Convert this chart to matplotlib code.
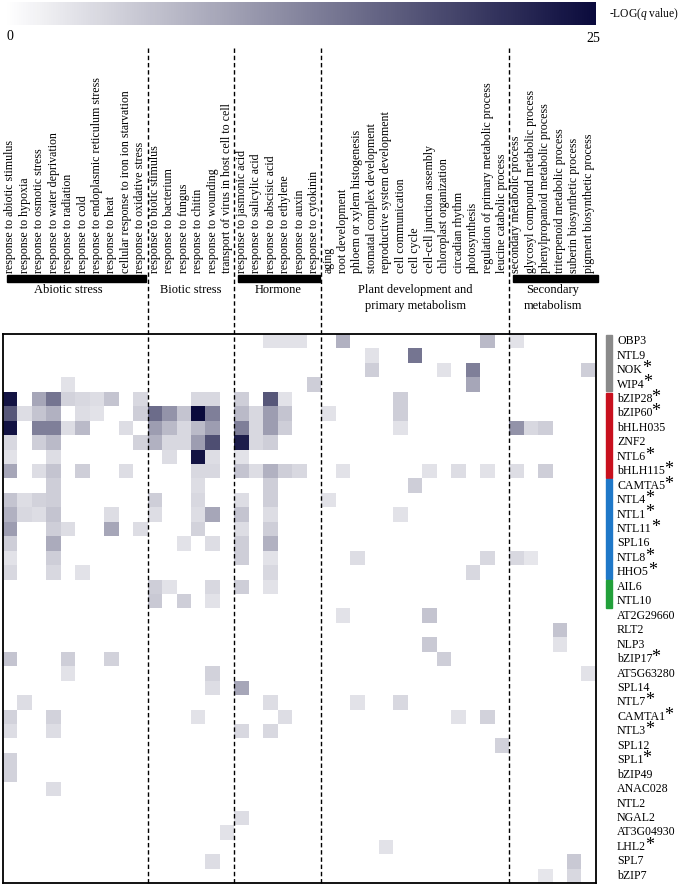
import numpy as np
import matplotlib
matplotlib.use('Agg')
import matplotlib.pyplot as plt
from matplotlib.colors import LinearSegmentedColormap
from matplotlib.patches import Rectangle
import matplotlib.transforms as mtransforms

plt.rcParams['font.family'] = ['Liberation Serif', 'DejaVu Serif']
plt.rcParams['mathtext.fontset'] = 'custom'
plt.rcParams['mathtext.it'] = 'Liberation Serif:italic'
plt.rcParams['mathtext.rm'] = 'Liberation Serif'

# ---------------- data ----------------
go_terms = [
    "response to abiotic stimulus", "response to hypoxia", "response to osmotic stress",
    "response to water deprivation", "response to radiation", "response to cold",
    "response to endoplasmic reticulum stress", "response to heat",
    "cellular response to iron ion starvation", "response to oxidative stress",
    "response to biotic stimulus", "response to bacterium", "response to fungus",
    "response to chitin", "response to wounding", "transport of virus in host cell to cell",
    "response to jasmonic acid", "response to salicylic acid", "response to abscisic acid",
    "response to ethylene", "response to auxin", "response to cytokinin",
    "aging", "root development", "phloem or xylem histogenesis", "stomatal complex development",
    "reproductive system development", "cell communication", "cell cycle",
    "cell-cell junction assembly", "chloroplast organization", "circadian rhythm",
    "photosynthesis", "regulation of primary metabolic process", "leucine catabolic process",
    "secondary metabolic process", "glycosyl compound metabolic process",
    "phenylpropanoid metabolic process", "triterpenoid metabolic process",
    "suberin biosynthetic process", "pigment biosynthetic process",
]
group_names = ["Abiotic stress", "Biotic stress", "Hormone",
               "Plant development and\nprimary metabolism", "Secondary\nmetabolism"]
group_sizes = [10, 6, 6, 13, 6]
group_has_bar = [True, False, True, False, True]

tf_names = ["OBP3", "NTL9", "NOK", "WIP4", "bZIP28", "bZIP60", "bHLH035", "ZNF2", "NTL6",
            "bHLH115", "CAMTA5", "NTL4", "NTL1", "NTL11", "SPL16", "NTL8", "HHO5", "AIL6",
            "NTL10", "AT2G29660", "RLT2", "NLP3", "bZIP17", "AT5G63280", "SPL14", "NTL7",
            "CAMTA1", "NTL3", "SPL12", "SPL1", "bZIP49", "ANAC028", "NTL2", "NGAL2",
            "AT3G04930", "LHL2", "SPL7", "bZIP7"]
tf_starred = ["NOK", "WIP4", "bZIP28", "bZIP60", "NTL6", "bHLH115", "CAMTA5", "NTL4", "NTL1",
              "NTL11", "NTL8", "HHO5", "bZIP17", "NTL7", "CAMTA1", "NTL3", "SPL1", "LHL2"]
tf_class_sizes = [4, 6, 7, 2]
tf_class_colors = ["#8a8a8a", "#c8101e", "#1f78c8", "#22a03a"]

# -LOG(q value) per TF: {GO-term index: value}
enrichment = {
    "OBP3": {18: 3, 19: 3, 20: 3, 23: 8, 33: 7, 35: 3},
    "NTL9": {25: 3, 28: 14},
    "NOK": {25: 5, 30: 3, 32: 13, 40: 5},
    "WIP4": {4: 3, 21: 5, 32: 9},
    "bZIP28": {0: 24, 2: 9, 3: 14, 4: 4.5, 5: 4, 6: 3.5, 7: 6, 9: 4, 13: 4, 14: 4,
               16: 5, 18: 17, 19: 3, 27: 5},
    "bZIP60": {0: 17, 1: 3.5, 2: 6, 3: 8, 5: 3.5, 6: 3, 9: 5, 10: 15, 11: 11, 12: 6,
               13: 25, 14: 13, 16: 7, 17: 4, 18: 10, 19: 6, 22: 3, 27: 5},
    "bHLH035": {0: 24, 2: 13, 3: 13, 4: 3.5, 5: 7, 8: 3.5, 10: 10, 11: 7, 12: 4, 13: 7,
                14: 10, 16: 13, 17: 4, 18: 10, 19: 5, 27: 3, 35: 11, 36: 4, 37: 5},
    "ZNF2": {0: 4, 2: 5, 3: 7, 9: 4.5, 10: 8, 11: 4, 12: 4, 13: 10, 14: 18, 16: 23,
             17: 4, 18: 5},
    "NTL6": {0: 3, 3: 3.5, 11: 3.5, 13: 24, 14: 3.5, 16: 3},
    "bHLH115": {0: 9, 2: 3.5, 3: 6, 5: 5, 8: 3.5, 13: 4, 14: 4, 16: 6, 17: 3.5, 18: 8,
                19: 5, 20: 4, 23: 3, 29: 3, 31: 3.5, 33: 3, 35: 3.5, 37: 5},
    "CAMTA5": {3: 5, 13: 3.5, 18: 5, 28: 5},
    "NTL4": {0: 6, 1: 3.5, 2: 4.5, 3: 5, 10: 5, 13: 4, 16: 3.5, 18: 5, 22: 3},
    "NTL1": {0: 8, 1: 4, 2: 3.5, 3: 6, 7: 3.5, 10: 3.5, 13: 3.5, 14: 9, 16: 6, 18: 3.5, 27: 3},
    "NTL11": {0: 10, 3: 5, 4: 3.5, 7: 9, 9: 3.5, 13: 4.5, 16: 3.5, 18: 5},
    "SPL16": {0: 5, 3: 8.5, 12: 3, 14: 3.5, 16: 5, 18: 8},
    "NTL8": {0: 3, 3: 5, 16: 5, 18: 3, 24: 3.5, 33: 4, 35: 4, 36: 2.5},
    "HHO5": {0: 4, 3: 4, 5: 3, 18: 4, 32: 4},
    "AIL6": {10: 5, 11: 3, 14: 4, 16: 5, 18: 3},
    "NTL10": {10: 5.5, 12: 5, 14: 3},
    "AT2G29660": {23: 3, 29: 6},
    "RLT2": {38: 6},
    "NLP3": {29: 5.5, 38: 3},
    "bZIP17": {0: 6, 4: 5, 7: 4.5, 30: 5},
    "AT5G63280": {4: 3, 14: 4.5, 40: 3},
    "SPL14": {14: 3.5, 16: 9},
    "NTL7": {1: 3.5, 18: 3.5, 24: 3, 27: 4},
    "CAMTA1": {0: 4.5, 3: 4.5, 13: 3, 19: 3.5, 31: 3, 33: 4.5},
    "NTL3": {0: 3.5, 3: 3.5, 16: 4, 18: 4},
    "SPL12": {34: 4.5},
    "SPL1": {0: 4.5},
    "bZIP49": {0: 4.5},
    "ANAC028": {3: 3.5},
    "NTL2": {},
    "NGAL2": {16: 3.5},
    "AT3G04930": {15: 3},
    "LHL2": {26: 3},
    "SPL7": {14: 3.5, 39: 5.5},
    "bZIP7": {37: 2.5, 39: 4},
}
vmin, vmax = 0, 25

# ---------------- figure ----------------
W, H = 683, 886
fig = plt.figure(figsize=(W / 100, H / 100), dpi=100)

n_rows, n_cols = len(tf_names), len(go_terms)
mat = np.zeros((n_rows, n_cols))
for i, name in enumerate(tf_names):
    for j, v in enrichment[name].items():
        mat[i, j] = v
mat = np.ma.masked_equal(mat, 0)

cmap = LinearSegmentedColormap.from_list("navy", ["#ffffff", "#0a0a3c"])
cmap.set_bad("white")

hx0, hx1, hy0, hy1 = 3, 596, 334, 883  # pixel box of heatmap
ax = fig.add_axes([hx0 / W, 1 - hy1 / H, (hx1 - hx0) / W, (hy1 - hy0) / H])
im = ax.imshow(mat, cmap=cmap, vmin=vmin, vmax=vmax, aspect="auto",
               interpolation="nearest")
ax.set_xlim(-0.5, n_cols - 0.5)
ax.set_ylim(n_rows - 0.5, -0.5)
for s in ax.spines.values():
    s.set_linewidth(1.3)
    s.set_color("black")

# column labels on top
ax.set_xticks(range(n_cols))
ax.set_xticklabels(go_terms, rotation=90, fontsize=8.6)
ax.xaxis.tick_top()
ax.tick_params(axis="x", length=0, pad=44)
ax.set_yticks([])

ax_h = hy1 - hy0
def ay(px):  # pixel y (from top) -> axes fraction
    return (hy1 - px) / ax_h

tr_xdata = mtransforms.blended_transform_factory(ax.transData, ax.transAxes)
tr_ydata = mtransforms.blended_transform_factory(ax.transAxes, ax.transData)

# dashed group separators
starts = np.cumsum([0] + group_sizes)
for b in starts[1:-1]:
    ax.plot([b - 0.5, b - 0.5], [0, ay(47)], transform=tr_xdata, color="black",
            lw=1.0, ls=(0, (3.2, 2.0)), clip_on=False, zorder=5)

# group bars and names
for k, (gname, size) in enumerate(zip(group_names, group_sizes)):
    s0, s1 = starts[k], starts[k + 1]
    if group_has_bar[k]:
        x0 = s0 - 0.5 + 0.25
        x1 = s1 - 0.5 + (0.15 if k == len(group_names) - 1 else -0.1)
        ax.add_patch(Rectangle((x0, ay(282)), x1 - x0, ay(275) - ay(282),
                               transform=tr_xdata, color="black", clip_on=False))
    cx = (s0 + s1 - 1) / 2 - (0.5 if k == 0 else 0)
    ax.text(cx, ay(284), gname, transform=tr_xdata, ha="center", va="top",
            fontsize=9, linespacing=1.45, multialignment="center")

# row labels with asterisks
for i, name in enumerate(tf_names):
    t = ax.text(1 + 21 / (hx1 - hx0), i, name, transform=tr_ydata, ha="left",
                va="center", fontsize=8.6)
    if name in tf_starred:
        ax.annotate("*", xy=(1, 0.5), xycoords=t, xytext=(-0.8, 1.2),
                    textcoords="offset points", ha="left", va="center", fontsize=13)

# class colour bars
r = 0
for size, col in zip(tf_class_sizes, tf_class_colors):
    ax.add_patch(Rectangle((1 + 10 / (hx1 - hx0), r - 0.5 + 0.06), 6 / (hx1 - hx0),
                           size - 0.12, transform=tr_ydata, color=col, clip_on=False))
    r += size

# colour bar on top
cax = fig.add_axes([5 / W, 1 - 25 / H, 591 / W, 23 / H])
cb = fig.colorbar(im, cax=cax, orientation="horizontal")
cb.outline.set_visible(False)
cb.set_ticks([])
fig.text(9.5 / W, 1 - 36 / H, str(vmin), ha="center", va="center", fontsize=10)
fig.text(593 / W, 1 - 38 / H, str(vmax), ha="center", va="center", fontsize=10)
fig.text(609 / W, 1 - 14 / H, "-LOG($q$ value)", ha="left", va="center", fontsize=8.3)

fig.savefig("out.png", dpi=100, facecolor="white")
